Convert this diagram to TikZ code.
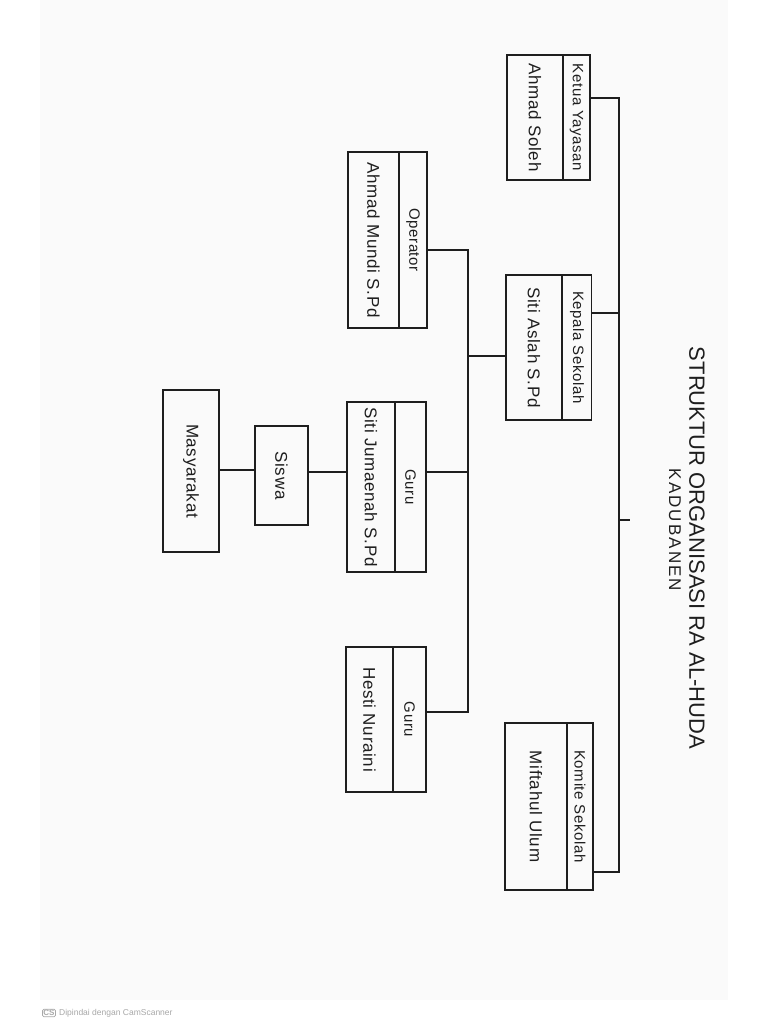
\documentclass[tikz,border=0pt]{standalone}
\usepackage{fontspec}
\setmainfont{Liberation Sans}
\definecolor{ink}{HTML}{1E1E1E}
\definecolor{paper}{HTML}{FAFAFA}
\definecolor{mark}{HTML}{A8A8A8}
\begin{document}
\begin{tikzpicture}[x=1pt,y=-1pt,
  line/.style={draw=ink,line width=1.1pt},
  cell/.style={draw=ink,line width=1.1pt,rectangle,inner sep=0pt,outer sep=0pt},
  txt/.style={rotate=-90,inner sep=0pt,text=ink,font=\fontsize{17}{17}\selectfont\addfontfeature{LetterSpace=4}},
  head/.style={rotate=-90,inner sep=0pt,text=ink,font=\fontsize{15}{15}\selectfont\addfontfeature{LetterSpace=4}}]
\useasboundingbox (0,0) rectangle (768,1024);
\fill[white] (0,0) rectangle (768,1024);
\fill[paper] (40,0) rectangle (728,1000);

% title
\node[rotate=-90,inner sep=0pt,text=ink,font=\fontsize{22}{22}\selectfont] (title) at (697,548) {STRUKTUR ORGANISASI RA AL-HUDA};
\node[rotate=-90,inner sep=0pt,text=ink,font=\fontsize{17}{17}\selectfont\addfontfeature{LetterSpace=12}] (sub) at (675,530) {KADUBANEN};

% Ketua Yayasan
\node[cell,minimum width=27pt,minimum height=125pt] (ketuaH) at (576.5,117.5) {};
\node[cell,minimum width=56pt,minimum height=125pt] (ketuaN) at (535,117.5) {};
\node[head] (ketuaHt) at (ketuaH) {Ketua Yayasan};
\node[txt] (ketuaNt) at (ketuaN) {Ahmad Soleh};

% Kepala Sekolah
\node[cell,minimum width=29pt,minimum height=145pt] (kepalaH) at (577,347.5) {};
\node[cell,minimum width=56pt,minimum height=145pt] (kepalaN) at (534,347.5) {};
\node[head] (kepalaHt) at (kepalaH) {Kepala Sekolah};
\node[txt] (kepalaNt) at (kepalaN) {Siti Aslah S.Pd};

% Komite Sekolah
\node[cell,minimum width=26pt,minimum height=167pt] (komiteH) at (580,806.5) {};
\node[cell,minimum width=62pt,minimum height=167pt] (komiteN) at (536,806.5) {};
\node[head] (komiteHt) at (komiteH) {Komite Sekolah};
\node[txt] (komiteNt) at (komiteN) {Miftahul Ulum};

% Operator
\node[cell,minimum width=28pt,minimum height=176pt] (opH) at (413,240) {};
\node[cell,minimum width=51pt,minimum height=176pt] (opN) at (373.5,240) {};
\node[head] (opHt) at (opH) {Operator};
\node[txt] (opNt) at (opN) {Ahmad Mundi S.Pd};

% Guru 1
\node[cell,minimum width=31pt,minimum height=170pt] (guru1H) at (410.5,487) {};
\node[cell,minimum width=48pt,minimum height=170pt] (guru1N) at (371,487) {};
\node[head] (guru1Ht) at (guru1H) {Guru};
\node[txt] (guru1Nt) at (guru1N) {Siti Jumaenah S.Pd};

% Guru 2
\node[cell,minimum width=33pt,minimum height=145pt] (guru2H) at (409.5,719.5) {};
\node[cell,minimum width=47pt,minimum height=145pt] (guru2N) at (369.5,719.5) {};
\node[head] (guru2Ht) at (guru2H) {Guru};
\node[txt] (guru2Nt) at (guru2N) {Hesti Nuraini};

% Siswa
\node[cell,minimum width=53pt,minimum height=99pt] (siswa) at (281.5,475.5) {};
\node[txt] (siswat) at (siswa) {Siswa};

% Masyarakat
\node[cell,minimum width=56pt,minimum height=162pt] (masy) at (191,471) {};
\node[txt] (masyt) at (masy) {Masyarakat};

% spine coordinates
\coordinate (sTop) at (619,98);
\coordinate (sKep) at (619,313);
\coordinate (sTick) at (630,520);
\coordinate (sBot) at (619,872);
\coordinate (tTop) at (468,250);
\coordinate (tKep) at (468,356);
\coordinate (tGuru) at (468,472);
\coordinate (tBot) at (468,712);

% main spine
\draw[line] ([yshift=19.5pt]ketuaH.east) -- (sTop) -- (sBot) -- ([yshift=-65.5pt]komiteH.east);
\draw[line] ([yshift=34.5pt]kepalaH.east) -- (sKep);
\draw[line] (sTick -| sTop) -- (sTick);

% second spine
\draw[line] ([yshift=-8.5pt]kepalaN.west) -- (tKep);
\draw[line] ([yshift=-10pt]opH.east) -- (tTop) -- (tBot) -- ([yshift=7.5pt]guru2H.east);
\draw[line] ([yshift=15pt]guru1H.east) -- (tGuru);

% Guru - Siswa - Masyarakat
\draw[line] ([yshift=15pt]guru1N.west) -- ([yshift=3.5pt]siswa.east);
\draw[line] ([yshift=5.5pt]siswa.west) -- ([yshift=1pt]masy.east);

% scanner watermark
\node[draw=mark,line width=0.8pt,rounded corners=1.5pt,inner sep=1pt,text=mark,font=\fontsize{8}{8}\selectfont\bfseries] (cs) at (49,1013) {CS};
\node[anchor=west,inner sep=0pt,text=mark,font=\fontsize{8.5}{8.5}\selectfont] (csTxt) at ([xshift=3pt]cs.east) {Dipindai dengan CamScanner};
\end{tikzpicture}
\end{document}
